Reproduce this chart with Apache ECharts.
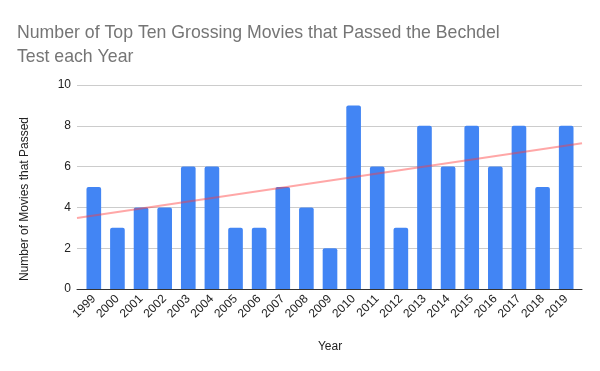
<!DOCTYPE html>
<html><head><meta charset="utf-8">
<script src="https://cdn.jsdelivr.net/npm/echarts@6/dist/echarts.min.js"></script>
<style>html,body{margin:0;padding:0;background:#fff}#c{width:600px;height:371px}</style>
</head><body><div id="c"></div>
<script>
const years = ['1999','2000','2001','2002','2003','2004','2005','2006','2007','2008','2009','2010','2011','2012','2013','2014','2015','2016','2017','2018','2019'];
const passed = [5,3,4,4,6,6,3,3,5,4,2,9,6,3,8,6,8,6,8,5,8];
const trendStart = 3.48;
const trendEnd = 7.14;
const yTicks = [0,2,4,6,8,10];

const font = 'Liberation Sans, Arial, sans-serif';
const chart = echarts.init(document.getElementById('c'));
chart.setOption({
  animation: false,
  title: {
    text: 'Number of Top Ten Grossing Movies that Passed the Bechdel\nTest each Year',
    left: 17, top: 21, padding: 0,
    textStyle: {fontFamily: font, fontSize: 17.7, fontWeight: 'normal', color: '#757575', lineHeight: 24}
  },
  grid: [
    {left: 77, right: 18, top: 85, bottom: 82},
    {left: 82, right: 22, top: 85, bottom: 82}
  ],
  xAxis: [{
    gridIndex: 0, type: 'value', min: 0, max: 1,
    axisLine: {show: true, onZero: false, lineStyle: {color: '#333', width: 1}},
    axisTick: {show: false}, axisLabel: {show: false}, splitLine: {show: false}
  }, {
    gridIndex: 1, type: 'category', data: years,
    name: 'Year', nameLocation: 'middle', nameGap: 52,
    nameTextStyle: {fontFamily: font, fontSize: 12, color: '#222'},
    axisLine: {show: false},
    axisTick: {show: false},
    axisLabel: {rotate: 45, interval: 0, fontFamily: font, fontSize: 12, color: '#222', margin: 8}
  }],
  yAxis: [{
    gridIndex: 0, type: 'value', min: yTicks[0], max: yTicks[yTicks.length-1], interval: 2,
    name: 'Number of Movies that Passed', nameLocation: 'middle', nameGap: 46,
    nameTextStyle: {fontFamily: font, fontSize: 12, color: '#222', padding: [0, 24, 0, 0]},
    axisLine: {show: false}, axisTick: {show: false},
    axisLabel: {fontFamily: font, fontSize: 12, color: '#222', margin: 6},
    splitLine: {lineStyle: {color: '#cccccc', width: 1}}
  }, {
    gridIndex: 1, type: 'value', min: yTicks[0], max: yTicks[yTicks.length-1], interval: 2,
    show: false, splitLine: {show: false}
  }],
  series: [{
    type: 'bar', xAxisIndex: 1, yAxisIndex: 1, data: passed, barWidth: '62%',
    itemStyle: {color: '#4285f4', borderRadius: [2,2,0,0]}, z: 3
  }, {
    type: 'line', xAxisIndex: 0, yAxisIndex: 0, data: [[0, trendStart],[1, trendEnd]],
    symbol: 'none', lineStyle: {color: 'rgba(255,60,60,0.45)', width: 2}, z: 5
  }]
});
</script></body></html>
